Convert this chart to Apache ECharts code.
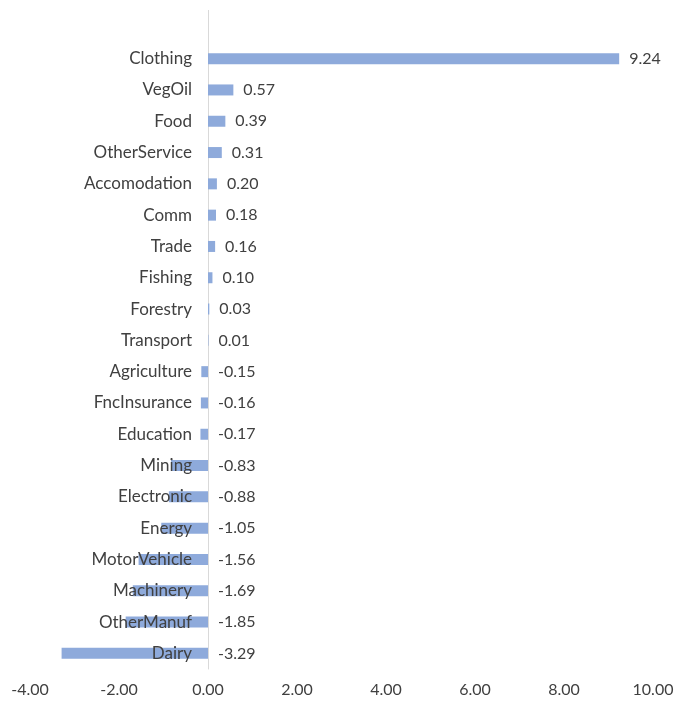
<!DOCTYPE html>
<html>
<head>
<meta charset="utf-8">
<script src="https://cdn.jsdelivr.net/npm/echarts@6/dist/echarts.min.js"></script>
<style>
  html, body { margin: 0; padding: 0; background: #fff; }
  #chart { width: 677px; height: 706px; }
</style>
</head>
<body>
<div id="chart"></div>
<script>
// Sectors, top to bottom
const sectors = [
  'Clothing', 'VegOil', 'Food', 'OtherService', 'Accomodation', 'Comm', 'Trade',
  'Fishing', 'Forestry', 'Transport', 'Agriculture', 'FncInsurance', 'Education',
  'Mining', 'Electronic', 'Energy', 'MotorVehicle', 'Machinery', 'OtherManuf', 'Dairy'
];
// Change per sector
const changes = [
  9.24, 0.57, 0.39, 0.31, 0.20, 0.18, 0.16,
  0.10, 0.03, 0.01, -0.15, -0.16, -0.17,
  -0.83, -0.88, -1.05, -1.56, -1.69, -1.85, -3.29
];
// Value axis range
const axisMin = -4;
const axisMax = 10;
const axisStep = 2;

const FONT = 'Lato, "Open Sans", sans-serif';
const TEXT = '#404040';
const LINE = '#d9d9d9';

// Sector names sit just left of the zero line: a zero-length bar per row carries them
const nameAnchors = sectors.map(() => 0);

const chart = echarts.init(document.getElementById('chart'));
chart.setOption({
  animation: false,
  grid: { left: 30, right: 24, top: 43, bottom: 37, containLabel: false, outerBoundsMode: 'none' },
  xAxis: {
    type: 'value',
    min: axisMin,
    max: axisMax,
    interval: axisStep,
    axisLine: { show: false },
    axisTick: { show: false },
    splitLine: { show: false },
    axisLabel: {
      formatter: v => v.toFixed(2),
      color: TEXT,
      fontFamily: FONT,
      fontSize: 16,
      margin: 13
    }
  },
  yAxis: {
    type: 'category',
    data: sectors,
    inverse: true,
    axisLine: { show: true, onZero: true, lineStyle: { color: LINE, width: 1 } },
    axisTick: { show: false },
    axisLabel: { show: false }
  },
  series: [{
    name: 'change',
    type: 'bar',
    data: changes,
    barWidth: 11,
    barGap: '-100%',
    z: 2,
    itemStyle: { color: '#8eaadb' },
    label: {
      show: true,
      position: 'right',
      distance: 10,
      formatter: p => p.value.toFixed(2),
      color: TEXT,
      fontFamily: FONT,
      fontSize: 16
    }
  }, {
    name: 'names',
    type: 'bar',
    data: nameAnchors,
    barWidth: 11,
    barGap: '-100%',
    z: 4,
    silent: true,
    itemStyle: { color: 'transparent' },
    label: {
      show: true,
      position: 'left',
      distance: 16,
      formatter: p => p.name,
      color: TEXT,
      fontFamily: FONT,
      fontSize: 17
    }
  }]
});

// The axis line continues above the first row
const zx = chart.convertToPixel({ xAxisIndex: 0 }, 0);
chart.setOption({
  graphic: [{
    type: 'line',
    shape: { x1: Math.round(zx) + 0.5, y1: 10, x2: Math.round(zx) + 0.5, y2: 43 },
    style: { stroke: LINE, lineWidth: 1 },
    z: 0
  }]
});
</script>
</body>
</html>
